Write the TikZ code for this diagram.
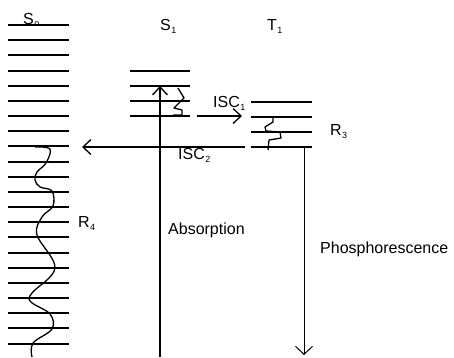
\documentclass[tikz,border=0pt]{standalone}
\usepackage{fontspec}
\setmainfont{Liberation Sans}
\usetikzlibrary{arrows.meta}
\begin{document}
\begin{tikzpicture}[x=1pt,y=-1pt,
  level/.style={line width=1.8pt},
  trans/.style={line width=1.3pt,-{Straight Barb[length=8pt,width=15pt,line width=1.3pt]}},
  thintrans/.style={line width=1pt,-{Straight Barb[length=8pt,width=17pt,line width=1pt]}},
  wavy/.style={line width=1.3pt,line join=round},
  lbl/.style={font=\fontsize{16}{18}\selectfont,inner sep=0pt,anchor=base west},
  sb/.style={font=\fontsize{9}{10}\selectfont,inner sep=0pt,anchor=base west}]
\useasboundingbox (0,0) rectangle (454,357);
% S0 levels
\foreach \i in {0,...,21}{
  \pgfmathsetmacro{\yy}{round(25+15.17*\i)}
  \draw[level] (8,\yy) -- (69,\yy);
}
% S1 levels
\foreach \yy in {71,86,101,116}{
  \draw[level] (130,\yy) -- (190,\yy);
}
% T1 levels
\foreach \yy in {102,117,132,147}{
  \draw[level] (251,\yy) -- (312,\yy);
}
% labels
\node[lbl] (s0) at (23,24) {S};
\node[sb] (s0s) at ([yshift=-2pt]s0.base east) {o};
\node[lbl] (s1) at (160,30) {S};
\node[sb] (s1s) at ([yshift=-3pt]s1.base east) {1};
\node[lbl] (t1) at (267,30) {T};
\node[sb] (t1s) at ([yshift=-3pt]t1.base east) {1};
\node[lbl] (isc1) at (213,107) {ISC};
\node[sb] (isc1s) at ([yshift=-3pt]isc1.base east) {1};
\node[lbl] (isc2) at (178,159) {ISC};
\node[sb] (isc2s) at ([yshift=-3pt]isc2.base east) {2};
\node[lbl] (r3) at (330,135) {R};
\node[sb] (r3s) at ([yshift=-3pt]r3.base east) {3};
\node[lbl] (r4) at (78,227) {R};
\node[sb] (r4s) at ([yshift=-3pt]r4.base east) {4};
\node[lbl] (abs) at (168,234) {Absorption};
\node[lbl] (pho) at (320,253) {Phosphorescence};
% transitions
\coordinate (absA) at (160,357);
\coordinate (absB) at (160,86);
\draw[trans] (absA) -- (absB);
\coordinate (iscA) at (197,116);
\coordinate (iscB) at (242,116);
\draw[trans] (iscA) -- (iscB);
\coordinate (isc2A) at (245,147);
\coordinate (isc2B) at (82,147);
\draw[trans] (isc2A) -- (isc2B);
\coordinate (phA) at (304,147);
\coordinate (phB) at (304,355);
\draw[thintrans] (phA) -- (phB);
% S1 relaxation zigzag
\draw[wavy] (178,88) -- (184,98) -- (174,108) -- (182,110) -- (182,115) -- (173,115);
% T1 relaxation squiggle
\draw[wavy] (273,117) -- (273,122) -- (265,127) -- (266,131) -- (280,132) -- (281,138) -- (269,140) -- (268,150);
% S0 relaxation wave
\draw[wavy] plot[smooth,tension=0.6] coordinates {(35,147) (50,149) (46,163) (37,172) (35,180) (40,187) (52,191) (53,206) (42,217) (37,235) (55,268) (32,293) (31,302) (50,314) (52,329) (33,343) (32,357)};
\end{tikzpicture}
\end{document}
